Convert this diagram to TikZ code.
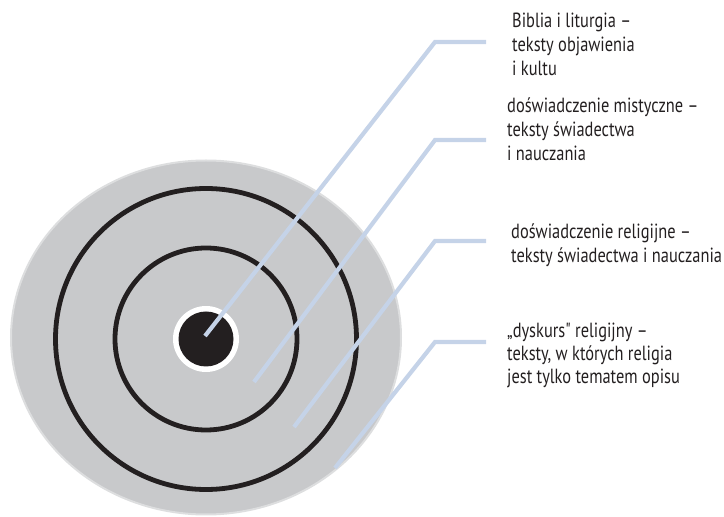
\documentclass[tikz,border=0pt]{standalone}
\usepackage{fontspec}
\setmainfont{PT Sans}[FakeStretch=0.8,Ligatures=TeXOff]
\definecolor{ringgray}{HTML}{C8C9CB}
\definecolor{edgegray}{HTML}{DDDEDF}
\definecolor{inkblack}{HTML}{231F20}
\definecolor{leaderblue}{HTML}{C5D3E8}
\begin{document}
\begin{tikzpicture}[x=1pt,y=1pt,
  ring/.style={draw=inkblack,line width=4.8pt},
  leader/.style={draw=leaderblue,line width=4.2pt,line join=miter},
  label/.style={anchor=base west,inner sep=0pt,align=left,
    font=\fontsize{20.5}{24}\selectfont,text=inkblack}]
\useasboundingbox (0,0) rectangle (724,517);
% outer field
\fill[ringgray,draw=edgegray,line width=2pt] (206,179.5) ellipse [x radius=195,y radius=177];
% rings
\draw[ring] (206,178) circle (150.5);
\draw[ring] (206,178) circle (91);
\fill[white] (206,178) circle (33);
\fill[inkblack] (206,178) circle (27.5);
% leader anchor points
\coordinate (s1) at (205,181);
\coordinate (b1) at (435,475);
\coordinate (e1) at (486,475);
\coordinate (s2) at (254,135);
\coordinate (b2) at (435,377);
\coordinate (e2) at (486,377);
\coordinate (s3) at (294,90);
\coordinate (b3) at (435,276);
\coordinate (e3) at (486,276);
\coordinate (s4) at (335,49);
\coordinate (b4) at (435,175);
\coordinate (e4) at (486,175);
\draw[leader] (s1) -- (b1) -- (e1);
\draw[leader] (s2) -- (b2) -- (e2);
\draw[leader] (s3) -- (b3) -- (e3);
\draw[leader] (s4) -- (b4) -- (e4);
% labels (anchored at baseline of last line)
\node[label] (t1) at (512,441) {Biblia i liturgia –\\teksty objawienia\\i kultu};
\node[label] (t2) at (507,356) {doświadczenie mistyczne –\\teksty świadectwa\\i nauczania};
\node[label] (t3) at (511,254) {doświadczenie religijne –\\teksty świadectwa i nauczania};
\node[label,font=\fontsize{20.5}{23}\selectfont] (t4) at (507,133) {„dyskurs" religijny –\\teksty, w których religia\\jest tylko tematem opisu};
\end{tikzpicture}
\end{document}
